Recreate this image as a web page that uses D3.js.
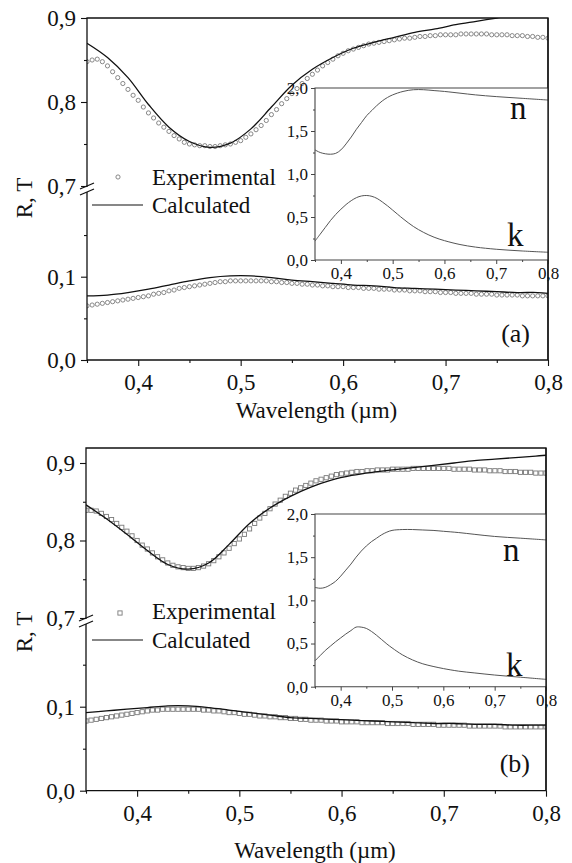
<!DOCTYPE html>
<head>
<meta charset="utf-8">
<script src="https://d3js.org/d3.v7.min.js"></script>
<style>
  body { margin: 0; background: #fff; }
  svg text { font-family: "Liberation Serif", "Times New Roman", Times, Tinos, "Nimbus Roman", "FreeSerif", "DejaVu Serif", serif !important; }
</style>
</head>
<body>
<svg width="572" height="863"></svg>
<script>
// measured points, 5 nm apart
const expWl = d3.range(91).map(i => 0.35 + i * 0.005);

const expTa = [
  .848, .850, .851, .848, .843, .836, .829, .822, .815, .808,
  .802, .794, .787, .781, .775, .770, .765, .760, .756, .752,
  .750, .749, .748, .748, .747, .747, .748, .749, .750, .752,
  .754, .758, .762, .767, .772, .778, .785, .791, .798, .804,
  .810, .816, .822, .828, .833, .838, .843, .847, .851, .855,
  .858, .861, .863, .865, .867, .869, .870, .871, .872, .873,
  .874, .875, .876, .876, .877, .878, .878, .879, .879, .880,
  .880, .880, .880, .881, .881, .881, .881, .881, .881, .880,
  .880, .880, .880, .879, .879, .879, .878, .878, .877, .877,
  .876
];
const expRa = [
  .065, .066, .067, .068, .069, .070, .071, .072, .073, .074,
  .075, .076, .077, .079, .080, .081, .083, .084, .086, .087,
  .088, .089, .090, .091, .092, .093, .094, .094, .095, .095,
  .095, .095, .095, .095, .095, .095, .094, .094, .093, .093,
  .092, .092, .091, .091, .090, .090, .089, .089, .088, .088,
  .088, .087, .087, .087, .086, .086, .086, .085, .085, .085,
  .084, .084, .084, .083, .083, .083, .082, .082, .082, .081,
  .081, .081, .080, .080, .080, .080, .079, .079, .079, .079,
  .078, .078, .078, .078, .078, .077, .077, .077, .077, .077,
  .077
];
const expTb = [
  .839, .839, .838, .835, .831, .827, .822, .817, .812, .806,
  .800, .794, .789, .784, .779, .775, .771, .768, .766, .765,
  .764, .764, .765, .767, .770, .774, .779, .784, .790, .796,
  .802, .808, .815, .822, .829, .835, .841, .847, .852, .857,
  .861, .865, .868, .871, .874, .877, .879, .881, .883, .885,
  .886, .887, .888, .889, .889, .890, .890, .891, .891, .891,
  .892, .892, .892, .892, .893, .893, .893, .893, .893, .893,
  .893, .893, .892, .892, .892, .892, .891, .891, .891, .890,
  .890, .890, .889, .889, .889, .888, .888, .888, .887, .887,
  .887
];
const expRb = [
  .083, .084, .085, .086, .087, .088, .089, .090, .091, .092,
  .093, .094, .095, .096, .096, .097, .097, .097, .097, .097,
  .097, .097, .097, .096, .096, .095, .095, .094, .093, .093,
  .092, .091, .091, .090, .089, .089, .088, .088, .087, .087,
  .086, .086, .085, .085, .084, .084, .084, .083, .083, .083,
  .082, .082, .082, .082, .081, .081, .081, .081, .081, .080,
  .080, .080, .080, .080, .079, .079, .079, .079, .079, .078,
  .078, .078, .078, .078, .078, .077, .077, .077, .077, .077,
  .077, .077, .076, .076, .076, .076, .076, .076, .076, .076,
  .076
];

// calculated curves
const calcWl = [0.35, 0.37, 0.39, 0.41, 0.43, 0.45, 0.47, 0.49, 0.51, 0.53, 0.55, 0.57,
                0.59, 0.61, 0.63, 0.65, 0.67, 0.69, 0.71, 0.73, 0.75, 0.77, 0.79, 0.80];
const calcTa = [.870, .853, .829, .797, .770, .753, .746, .751, .768, .794, .820, .839,
                .853, .864, .871, .877, .883, .887, .892, .896, .900, .904, .907, .908];
const calcRa = [.077, .078, .081, .085, .090, .095, .099, .101, .101, .099, .096, .094,
                .092, .090, .089, .087, .086, .085, .084, .083, .082, .081, .081, .080];
const calcTb = [.846, .828, .808, .787, .769, .763, .771, .795, .822, .842, .857, .869,
                .878, .884, .888, .891, .894, .897, .900, .903, .905, .907, .909, .910];
const calcRb = [.093, .095, .097, .099, .101, .101, .099, .096, .093, .090, .087, .086,
                .085, .084, .083, .082, .081, .080, .080, .079, .079, .078, .078, .078];

// optical constants (insets)
const nkWl = [0.35, 0.36, 0.37, 0.38, 0.39, 0.40, 0.41, 0.42, 0.43, 0.44, 0.45, 0.46, 0.47,
              0.48, 0.49, 0.50, 0.52, 0.54, 0.56, 0.58, 0.60, 0.63, 0.66, 0.70, 0.75, 0.80];
const nA = [1.28, 1.25, 1.235, 1.23, 1.24, 1.28, 1.35, 1.43, 1.52, 1.60, 1.68, 1.74, 1.80,
            1.85, 1.89, 1.92, 1.96, 1.98, 1.98, 1.97, 1.96, 1.94, 1.92, 1.90, 1.88, 1.86];
const kA = [.22, .30, .38, .46, .53, .59, .645, .69, .725, .745, .75, .74, .715,
            .675, .63, .58, .48, .39, .32, .265, .225, .18, .15, .125, .105, .09];
const nB = [1.15, 1.14, 1.15, 1.18, 1.22, 1.28, 1.35, 1.42, 1.50, 1.57, 1.63, 1.68, 1.72,
            1.76, 1.79, 1.81, 1.82, 1.82, 1.815, 1.81, 1.80, 1.785, 1.765, 1.74, 1.72, 1.70];
const kB = [.30, .36, .42, .47, .52, .565, .61, .65, .69, .69, .675, .64, .595,
            .545, .495, .45, .37, .31, .265, .235, .21, .18, .16, .135, .11, .085];

const xMajor = [0.4, 0.5, 0.6, 0.7, 0.8];
const xMinor = [0.35, 0.45, 0.55, 0.65, 0.75];
const nkMajor = [0, 0.5, 1, 1.5, 2];
const nkMinor = [0.25, 0.75, 1.25, 1.75];

const svg = d3.select("svg");
const comma = d => d3.format(".1f")(d).replace(".", ",");

function ticks(g, axis, fontSize) {
  g.call(axis);
  g.select(".domain").remove();
  g.attr("font-family", null);
  g.selectAll(".tick line").attr("stroke", "#111").attr("stroke-width", 1.1);
  g.selectAll("text").attr("font-size", fontSize).attr("fill", "#111");
}

function label(parent) {
  return parent.append("text").attr("fill", "#111");
}

function drawPanel(p) {
  const g = svg.append("g");
  const x = d3.scaleLinear().domain([0.35, 0.8]).range([p.left, p.right]);
  const yHi = d3.scaleLinear().domain([0.7, 0.9]).range([p.y07, p.y09]);
  const yLo = d3.scaleLinear().domain([0, 0.1]).range([p.y00, p.y01]);
  const brk = p.y07 + 6;

  const clipId = "clip" + p.id;
  svg.append("clipPath").attr("id", clipId).append("rect")
    .attr("x", p.left).attr("y", p.top).attr("width", p.right - p.left).attr("height", p.y00 - p.top);

  const plot = g.append("g").attr("clip-path", `url(#${clipId})`);

  const lineHi = d3.line().x((d, i) => x(calcWl[i])).y(d => yHi(d)).curve(d3.curveCatmullRom);
  const lineLo = d3.line().x((d, i) => x(calcWl[i])).y(d => yLo(d)).curve(d3.curveCatmullRom);

  function markers(vals, y) {
    if (p.marker === "circle") {
      plot.append("g").selectAll("circle").data(vals).join("circle")
        .attr("cx", (d, i) => x(expWl[i])).attr("cy", d => y(d)).attr("r", 2.1)
        .attr("fill", "none").attr("stroke", "#7a7a7a").attr("stroke-width", 0.9);
    } else {
      plot.append("g").selectAll("rect").data(vals).join("rect")
        .attr("x", (d, i) => x(expWl[i]) - 2.1).attr("y", d => y(d) - 2.1)
        .attr("width", 4.2).attr("height", 4.2)
        .attr("fill", "none").attr("stroke", "#7a7a7a").attr("stroke-width", 0.9);
    }
  }
  markers(p.expT, yHi);
  markers(p.expR, yLo);
  plot.append("path").attr("d", lineHi(p.calcT)).attr("fill", "none").attr("stroke", "#111").attr("stroke-width", 1.3);
  plot.append("path").attr("d", lineLo(p.calcR)).attr("fill", "none").attr("stroke", "#111").attr("stroke-width", 1.3);

  // axes
  ticks(g.append("g").attr("transform", `translate(${p.left},0)`),
    d3.axisLeft(yHi).tickValues([0.7, 0.8, 0.9]).tickSize(6).tickPadding(5).tickFormat(comma), 23);
  ticks(g.append("g").attr("transform", `translate(${p.left},0)`),
    d3.axisLeft(yHi).tickValues([0.75, 0.85]).tickSize(3).tickFormat(""), 23);
  ticks(g.append("g").attr("transform", `translate(${p.left},0)`),
    d3.axisLeft(yLo).tickValues([0, 0.1]).tickSize(6).tickPadding(5).tickFormat(comma), 23);
  ticks(g.append("g").attr("transform", `translate(${p.left},0)`),
    d3.axisLeft(yLo).tickValues([0.05, 0.15]).tickSize(3).tickFormat(""), 23);
  ticks(g.append("g").attr("transform", `translate(0,${p.y00})`),
    d3.axisBottom(x).tickValues(xMajor).tickSize(6).tickPadding(7.5).tickFormat(comma), 23);
  ticks(g.append("g").attr("transform", `translate(0,${p.y00})`),
    d3.axisBottom(x).tickValues(xMinor).tickSize(3).tickFormat(""), 23);

  // frame with broken left axis
  const ax = g.append("g").attr("stroke", "#111").attr("stroke-width", 1.3).attr("fill", "none");
  ax.append("path").attr("d", `M${p.left},${p.y07 + 1}V${p.top}H${p.right}V${p.y00}H${p.left}V${brk}`);
  ax.append("line").attr("x1", p.left - 7).attr("y1", p.y07 + 3).attr("x2", p.left + 7).attr("y2", p.y07 - 3);
  ax.append("line").attr("x1", p.left - 7).attr("y1", brk + 3).attr("x2", p.left + 7).attr("y2", brk - 3);

  // legend
  const lg = g.append("g");
  if (p.marker === "circle") {
    lg.append("circle").attr("cx", p.legX).attr("cy", p.legY1 - 8).attr("r", 2.1)
      .attr("fill", "none").attr("stroke", "#7a7a7a").attr("stroke-width", 0.9);
  } else {
    lg.append("rect").attr("x", p.legX - 2.1).attr("y", p.legY1 - 8.1).attr("width", 4.2).attr("height", 4.2)
      .attr("fill", "none").attr("stroke", "#7a7a7a").attr("stroke-width", 0.9);
  }
  label(lg).attr("x", 152).attr("y", p.legY1).attr("font-size", 23).text("Experimental");
  lg.append("line").attr("x1", 92).attr("x2", 143).attr("y1", p.legY2 - 8).attr("y2", p.legY2 - 8)
    .attr("stroke", "#111").attr("stroke-width", 1.2);
  label(lg).attr("x", 152).attr("y", p.legY2).attr("font-size", 23).text("Calculated");

  // titles
  label(g).attr("transform", `translate(32,${p.ylabY}) rotate(-90)`)
    .attr("text-anchor", "middle").attr("font-size", 23).text("R, T");
  label(g).attr("x", (p.left + p.right) / 2 - 1).attr("y", p.xlabY)
    .attr("text-anchor", "middle").attr("font-size", 23).text("Wavelength (\u00b5m)");
  label(g).attr("x", 530).attr("y", p.tagY).attr("text-anchor", "end")
    .attr("font-size", 26).text(p.tag);

  // inset
  const ix = d3.scaleLinear().domain([0.35, 0.8]).range([315, p.right]);
  const iy = d3.scaleLinear().domain([0, 2]).range([p.iBottom, p.iTop]);
  const ig = g.append("g");
  ig.append("rect").attr("x", 315).attr("y", p.iTop).attr("width", p.right - 315)
    .attr("height", p.iBottom - p.iTop).attr("fill", "#fff");
  const iline = d3.line().x((d, i) => ix(nkWl[i])).y(d => iy(d)).curve(d3.curveCatmullRom);
  ig.append("path").attr("d", iline(p.n)).attr("fill", "none").attr("stroke", "#555").attr("stroke-width", 1);
  ig.append("path").attr("d", iline(p.k)).attr("fill", "none").attr("stroke", "#555").attr("stroke-width", 1);
  ticks(ig.append("g").attr("transform", "translate(315,0)"),
    d3.axisLeft(iy).tickValues(nkMajor).tickSize(4).tickPadding(3).tickFormat(comma), 17);
  ticks(ig.append("g").attr("transform", "translate(315,0)"),
    d3.axisLeft(iy).tickValues(nkMinor).tickSize(2).tickFormat(""), 17);
  ticks(ig.append("g").attr("transform", `translate(0,${p.iBottom})`),
    d3.axisBottom(ix).tickValues(xMajor).tickSize(4).tickPadding(3).tickFormat(comma), 17);
  ticks(ig.append("g").attr("transform", `translate(0,${p.iBottom})`),
    d3.axisBottom(ix).tickValues(xMinor).tickSize(2).tickFormat(""), 17);
  ig.selectAll(".tick line").attr("stroke", "#444").attr("stroke-width", 1);
  ig.append("path").attr("d", `M${p.right},${p.iTop}H315V${p.iBottom}H${p.right}`)
    .attr("fill", "none").attr("stroke", "#444").attr("stroke-width", 1.1);
  label(ig).attr("x", p.nX).attr("y", p.nY).attr("font-size", 33).text("n");
  label(ig).attr("x", p.kX).attr("y", p.kY).attr("font-size", 33).text("k");

  // right frame drawn over the inset labels
  g.append("line").attr("x1", p.right).attr("x2", p.right).attr("y1", p.top).attr("y2", p.y00)
    .attr("stroke", "#111").attr("stroke-width", 1.3);
}

drawPanel({
  id: "a", marker: "circle", left: 87, right: 548, top: 18,
  y09: 18, y07: 186, y00: 360, y01: 276.7,
  expT: expTa, expR: expRa, calcT: calcTa, calcR: calcRa,
  legX: 118, legY1: 185, legY2: 213,
  ylabY: 198, xlabY: 418, tag: "(a)", tagY: 342,
  iTop: 88, iBottom: 260, n: nA, k: kA, nX: 510, nY: 119, kX: 507, kY: 246
});

drawPanel({
  id: "b", marker: "square", left: 86, right: 546, top: 448,
  y09: 463, y07: 618, y00: 790.7, y01: 706.7,
  expT: expTb, expR: expRb, calcT: calcTb, calcR: calcRb,
  legX: 120, legY1: 619, legY2: 648,
  ylabY: 632, xlabY: 858, tag: "(b)", tagY: 772,
  iTop: 514, iBottom: 686.7, n: nB, k: kB, nX: 503, nY: 561, kX: 506, kY: 676
});
</script>
</body>
